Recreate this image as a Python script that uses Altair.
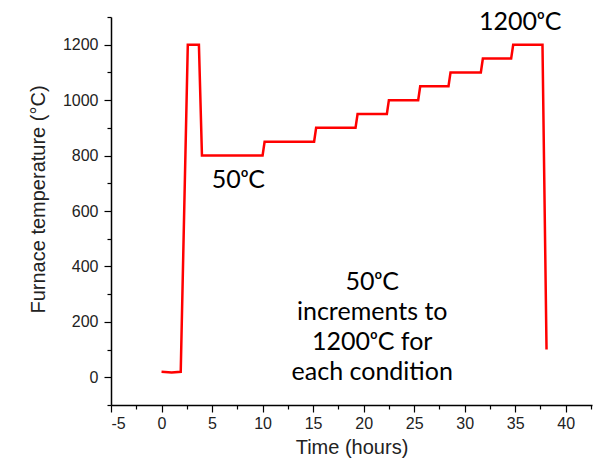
import altair as alt
import pandas as pd

# Furnace temperature profile (time in hours, temperature in °C)
time_h = [0.0, 1.0, 1.9, 2.6, 3.7, 4.0, 10.0, 10.2, 15.1, 15.3, 19.2, 19.4,
          22.3, 22.5, 25.4, 25.6, 28.4, 28.6, 31.6, 31.8, 34.6, 34.8, 37.7, 38.1]
temp_c = [20, 17, 20, 1200, 1200, 800, 800, 850, 850, 900, 900, 950,
          950, 1000, 1000, 1050, 1050, 1100, 1100, 1150, 1150, 1200, 1200, 100]

ann_text = ["50ᵒC", "1200ᵒC", "50ᵒC\nincrements to\n1200ᵒC for\neach condition"]
ann_x = [7.6, 35.5, 20.85]
ann_y = [683, 1254, 314]

df = pd.DataFrame({"t": time_h, "T": temp_c, "order": list(range(len(time_h)))})
ann = pd.DataFrame({"label": ann_text, "x": ann_x, "y": ann_y})

x_scale = alt.Scale(domain=[-5, 42.6], nice=False, zero=False)
y_scale = alt.Scale(domain=[-100, 1300], nice=False, zero=False)

x_vals = [-5 + 2.5 * i for i in range(20)]
y_vals = [-100 + 100 * i for i in range(15)]

x_axis = alt.Axis(
    title="Time (hours)", values=x_vals, grid=False, labelOverlap=False,
    labelExpr="datum.value % 5 === 0 ? '' + datum.value : ''",
    tickSize=7,
    tickDash={"condition": {"test": "datum.value % 5 !== 0", "value": [4, 20]}, "value": [20, 0]},
    labelFont="Liberation Sans", labelFontSize=16, labelColor="#222",
    titleFont="Liberation Sans", titleFontSize=20, titleFontWeight="normal", titleColor="#222",
    domainColor="black", tickColor="black", labelPadding=3, titlePadding=6,
    domainWidth=1.5, tickWidth=1.2,
)
y_axis = alt.Axis(
    title="Furnace temperature (°C)", values=y_vals, grid=False, labelOverlap=False,
    labelExpr="datum.value % 200 === 0 ? '' + datum.value : ''",
    tickSize=7,
    tickDash={"condition": {"test": "datum.value % 200 !== 0", "value": [4, 20]}, "value": [20, 0]},
    labelFont="Liberation Sans", labelFontSize=16, labelColor="#222",
    titleFont="Liberation Sans", titleFontSize=20, titleFontWeight="normal", titleColor="#222",
    domainColor="black", tickColor="black", labelPadding=6, titlePadding=14, titleY=182,
    domainWidth=1.5, tickWidth=1.2,
)

line = alt.Chart(df).mark_line(color="#ff0000", strokeWidth=2.5).encode(
    x=alt.X("t:Q", scale=x_scale, axis=x_axis),
    y=alt.Y("T:Q", scale=y_scale, axis=y_axis),
    order="order:Q",
)

text = alt.Chart(ann).mark_text(
    font="Lato", fontSize=25, color="black", align="center",
    baseline="alphabetic", lineHeight=30, lineBreak="\n",
).encode(
    x=alt.X("x:Q", scale=x_scale, axis=x_axis),
    y=alt.Y("y:Q", scale=y_scale, axis=y_axis),
    text="label:N",
)

chart = alt.layer(line, text).properties(
    width=481, height=388, background="white",
    autosize=alt.AutoSizeParams(type="none"),
    padding={"left": 111, "top": 17, "right": 4, "bottom": 57},
).configure_view(stroke=None)

chart.save("out.html", embed_options={"renderer": "svg", "actions": False})
